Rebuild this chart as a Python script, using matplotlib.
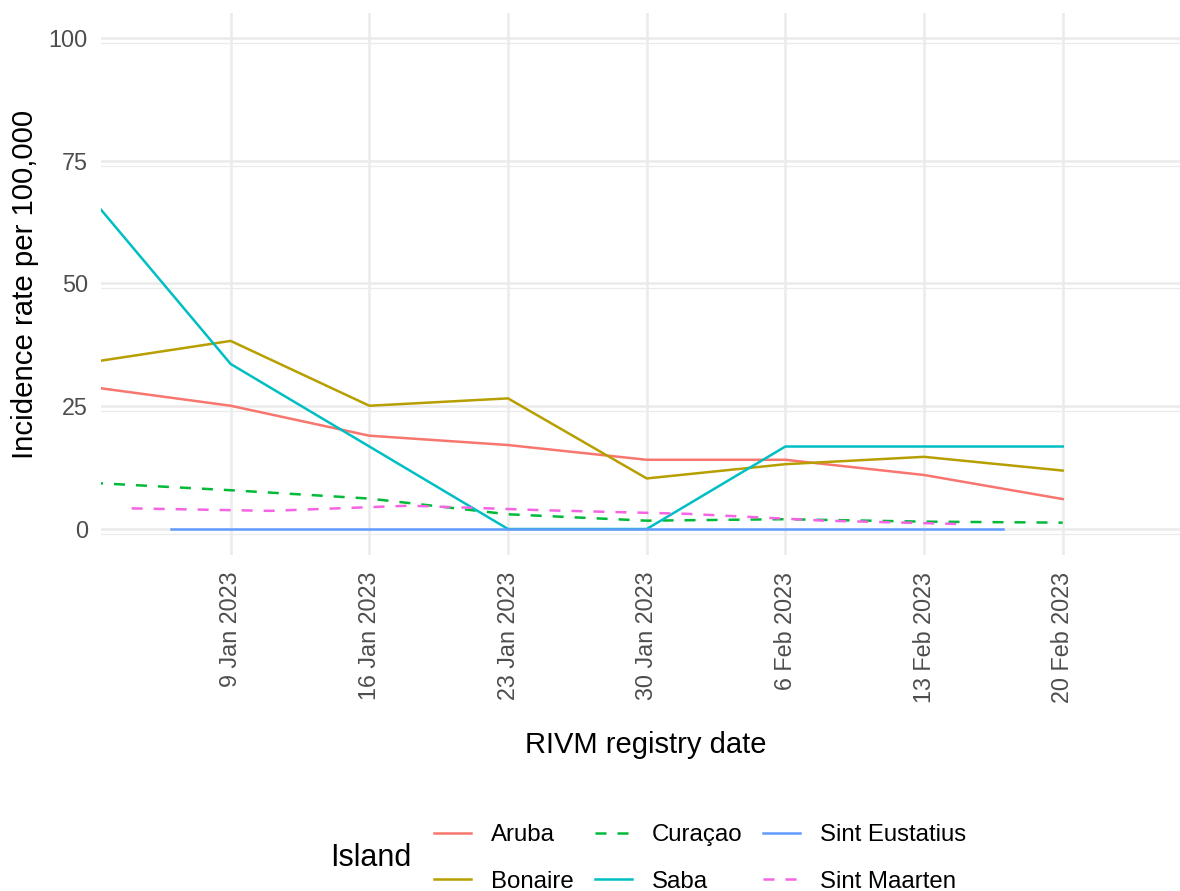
import pandas as pd
import matplotlib
matplotlib.use("Agg")
import matplotlib.pyplot as plt
import matplotlib.dates as mdates

plt.rcParams['font.family'] = ['Liberation Sans', 'DejaVu Sans']

# Datos
mondays = ['2023-01-02', '2023-01-09', '2023-01-16', '2023-01-23',
           '2023-01-30', '2023-02-06', '2023-02-13', '2023-02-20']
wednesdays = ['2023-01-04', '2023-01-11', '2023-01-18', '2023-01-25',
              '2023-02-01', '2023-02-08', '2023-02-15']
fridays = ['2023-01-06', '2023-01-13', '2023-01-20', '2023-01-27',
           '2023-02-03', '2023-02-10', '2023-02-17']

aruba = [28.9, 25.1, 19.0, 17.1, 14.1, 14.1, 11.0, 6.1]
bonaire = [34.0, 38.3, 25.1, 26.6, 10.3, 13.2, 14.7, 11.9]
curacao = [9.4, 7.9, 6.2, 3.0, 1.7, 2.0, 1.5, 1.3]
saba = [67.2, 33.6, 16.8, 0.0, 0.0, 16.8, 16.8, 16.8]
sint_eustatius = [0.0, 0.0, 0.0, 0.0, 0.0, 0.0, 0.0]
sint_maarten = [4.2, 3.7, 4.75, 3.8, 3.1, 1.7, 1.0]

islands = ['Aruba', 'Bonaire', 'Curaçao', 'Saba', 'Sint Eustatius', 'Sint Maarten']
colors = ['#F8766D', '#B79F00', '#00BA38', '#00BFC4', '#619CFF', '#F564E3']
dashed = [False, False, True, False, False, True]
series = [(mondays, aruba), (mondays, bonaire), (mondays, curacao),
          (mondays, saba), (fridays, sint_eustatius), (wednesdays, sint_maarten)]

xticks = ['2023-01-09', '2023-01-16', '2023-01-23', '2023-01-30',
          '2023-02-06', '2023-02-13', '2023-02-20']
yticks = [0, 25, 50, 75, 100]

W, H = 1180, 891
fig = plt.figure(figsize=(W / 100, H / 100), dpi=100)
ax = fig.add_axes([101 / W, 1 - 555 / H, 1079 / W, 542 / H])

# Rejilla
for y in yticks:
    ax.axhline(y, color='#EBEBEB', lw=1.8, zorder=0)
    ax.axhline(y - 1.0, color='#EBEBEB', lw=0.9, zorder=0)
for d in pd.to_datetime(xticks):
    ax.axvline(d, color='#EBEBEB', lw=1.8, zorder=0)

handles = []
for name, col, dsh, (dates, vals) in zip(islands, colors, dashed, series):
    ls = (0, (4.4, 4.4)) if dsh else '-'
    h, = ax.plot(pd.to_datetime(dates), vals, color=col, lw=1.8, ls=ls, label=name)
    handles.append(h)

x0 = mdates.date2num(pd.Timestamp('2023-01-09'))
ax.set_xlim(x0 - 6.547, x0 + 47.92)
ax.set_ylim(-5.29, 105.07)

ax.set_xticks(pd.to_datetime(xticks))
ax.set_xticklabels([pd.Timestamp(d).strftime('%-d %b %Y') for d in xticks],
                   rotation=90, va='top', ha='center')
ax.set_yticks(yticks)
ax.set_yticklabels([str(v) for v in yticks])
ax.tick_params(axis='both', length=0, labelsize=16.8, labelcolor='#4D4D4D')
ax.tick_params(axis='x', pad=12)
ax.tick_params(axis='y', pad=9.4)
for s in ax.spines.values():
    s.set_visible(False)

ax.set_xlabel('RIVM registry date', fontsize=21, va='center')
ax.xaxis.set_label_coords((646 - 101) / 1079, (555 - 745) / 542)
ax.set_ylabel('Incidence rate per 100,000', fontsize=21.2, va='center')
ax.yaxis.set_label_coords((25 - 101) / 1079, 0.5)

# Leyenda
fig.text(330 / W, 1 - 858 / H, 'Island', fontsize=22, ha='left', va='center')
fig.legend(handles=handles, ncol=3, loc='center left',
           bbox_to_anchor=(434 / W, 1 - 858.5 / H), frameon=False,
           fontsize=17.3, handlelength=1.54, handletextpad=0.83,
           columnspacing=0.87, labelspacing=1.02, borderpad=0, borderaxespad=0)

fig.savefig('out.png', dpi=100)
